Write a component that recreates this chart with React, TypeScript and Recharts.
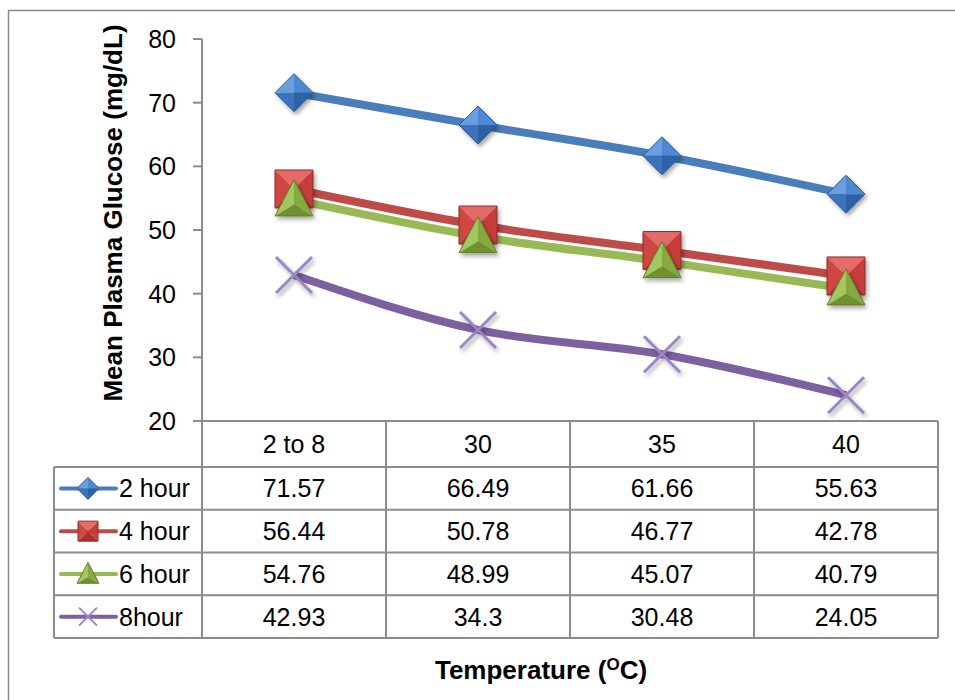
import React from "react";
import { LineChart, Line, XAxis, YAxis } from "recharts";

const categories = ["2 to 8", "30", "35", "40"];
const seriesNames = ["2 hour", "4 hour", "6 hour", "8hour"];
const hour2 = [71.57, 66.49, 61.66, 55.63];
const hour4 = [56.44, 50.78, 46.77, 42.78];
const hour6 = [54.76, 48.99, 45.07, 40.79];
const hour8 = [42.93, 34.3, 30.48, 24.05];
const yTicks = [20, 30, 40, 50, 60, 70, 80];

const seriesValues = [hour2, hour4, hour6, hour8];
const seriesKeys = ["h2", "h4", "h6", "h8"];
const lineColors = ["#4A7EBB", "#BE4B48", "#98B954", "#7D60A0"];

const data = categories.map((c, i) => {
  const row: any = { cat: c };
  seriesKeys.forEach((k, s) => {
    row[k] = seriesValues[s][i];
  });
  return row;
});

const FONT = "'Liberation Sans', Arial, sans-serif";
const GRID = "#8c8c8c";

const pt = (a: number, b: number) => `${a},${b}`;

function Diamond({ cx, cy, r, shadow = true }: any) {
  const t = pt(cx, cy - r), rt = pt(cx + r, cy), b = pt(cx, cy + r), l = pt(cx - r, cy), c = pt(cx, cy);
  return (
    <g filter={shadow ? "url(#mkShadow)" : undefined}>
      <polygon points={`${l} ${t} ${c}`} fill="#6A9FDF" />
      <polygon points={`${t} ${rt} ${c}`} fill="#4E88D2" />
      <polygon points={`${l} ${b} ${c}`} fill="#3B73BC" />
      <polygon points={`${rt} ${b} ${c}`} fill="#2D62A6" />
      <polygon points={`${l} ${t} ${rt} ${b}`} fill="none" stroke="#2A5A93" strokeWidth={1} />
    </g>
  );
}

function Square({ cx, cy, r, shadow = true }: any) {
  const tl = pt(cx - r, cy - r), tr = pt(cx + r, cy - r), br = pt(cx + r, cy + r), bl = pt(cx - r, cy + r), c = pt(cx, cy);
  return (
    <g filter={shadow ? "url(#mkShadow)" : undefined}>
      <polygon points={`${tl} ${tr} ${c}`} fill="#E56B67" />
      <polygon points={`${tl} ${bl} ${c}`} fill="#CF4642" />
      <polygon points={`${tr} ${br} ${c}`} fill="#C63E3A" />
      <polygon points={`${bl} ${br} ${c}`} fill="#A9322F" />
      <polygon points={`${tl} ${tr} ${br} ${bl}`} fill="none" stroke="#8C2A27" strokeWidth={1} />
    </g>
  );
}

function Triangle({ cx, cy, r, shadow = true }: any) {
  const h = r * 1.9;
  const t = pt(cx, cy - h * 0.55), l = pt(cx - r, cy + h * 0.45), rt = pt(cx + r, cy + h * 0.45), c = pt(cx, cy + h * 0.15);
  return (
    <g filter={shadow ? "url(#mkShadow)" : undefined}>
      <polygon points={`${t} ${l} ${c}`} fill="#A3C75E" />
      <polygon points={`${t} ${rt} ${c}`} fill="#86AA40" />
      <polygon points={`${l} ${rt} ${c}`} fill="#6F9131" />
      <polygon points={`${t} ${l} ${rt}`} fill="none" stroke="#5F7D2A" strokeWidth={1} />
    </g>
  );
}

function Cross({ cx, cy, r, shadow = true, w = 3 }: any) {
  return (
    <g filter={shadow ? "url(#mkShadow)" : undefined} stroke="#9A85C6" strokeWidth={w}>
      <line x1={cx - r} y1={cy - r} x2={cx + r} y2={cy + r} />
      <line x1={cx - r} y1={cy + r} x2={cx + r} y2={cy - r} />
    </g>
  );
}

const markerComps = [Diamond, Square, Triangle, Cross];
const markerSizes = [19, 19, 19, 18];
const legendSizes = [11, 10, 11, 9];

const HEADER_H = 46;
const ROW_H = 42.75;
const LEGEND_W = 148;

function TableTick(props: any) {
  const { x, y, payload, index, width, visibleTicksCount } = props;
  const colW = width && visibleTicksCount ? width / visibleTicksCount : 184;
  const left = x - colW / 2;
  const right = x + colW / 2;
  const bottom = y + HEADER_H + ROW_H * seriesNames.length;
  const lines: any[] = [];
  lines.push(<line key="vl" x1={left} y1={y} x2={left} y2={bottom} stroke={GRID} strokeWidth={2} />);
  lines.push(<line key="vr" x1={right} y1={y} x2={right} y2={bottom} stroke={GRID} strokeWidth={2} />);
  for (let r = 0; r <= seriesNames.length; r++) {
    const yy = y + HEADER_H + ROW_H * r;
    lines.push(<line key={"h" + r} x1={left} y1={yy} x2={right} y2={yy} stroke={GRID} strokeWidth={2} />);
  }
  const texts: any[] = [];
  texts.push(
    <text key="hd" x={x} y={y + HEADER_H / 2} dy="0.36em" textAnchor="middle" fontSize={25} fontFamily={FONT} fill="#000">
      {payload.value}
    </text>
  );
  seriesValues.forEach((vals, s) => {
    texts.push(
      <text key={"v" + s} x={x} y={y + HEADER_H + ROW_H * (s + 0.5)} dy="0.36em" textAnchor="middle" fontSize={25} fontFamily={FONT} fill="#000">
        {String(vals[index])}
      </text>
    );
  });
  const legend: any[] = [];
  if (index === 0) {
    const lx = left - LEGEND_W;
    legend.push(<line key="lv" x1={lx} y1={y + HEADER_H} x2={lx} y2={bottom} stroke={GRID} strokeWidth={2} />);
    for (let r = 0; r <= seriesNames.length; r++) {
      const yy = y + HEADER_H + ROW_H * r;
      legend.push(<line key={"lh" + r} x1={lx} y1={yy} x2={left} y2={yy} stroke={GRID} strokeWidth={2} />);
    }
    seriesNames.forEach((name, s) => {
      const cy = y + HEADER_H + ROW_H * (s + 0.5);
      const M = markerComps[s];
      legend.push(
        <g key={"lg" + s}>
          <line x1={lx + 7} y1={cy} x2={lx + 62} y2={cy} stroke={lineColors[s]} strokeWidth={4} strokeLinecap="round" />
          <M cx={lx + 34} cy={cy} r={legendSizes[s]} shadow={false} w={2} />
          <text x={lx + 65} y={cy} dy="0.36em" fontSize={25} fontFamily={FONT} fill="#000">
            {name}
          </text>
        </g>
      );
    });
  }
  return (
    <g>
      {lines}
      {legend}
      {texts}
    </g>
  );
}

export default function App() {
  return (
    <div style={{ position: "relative", width: 955, height: 700 }}>
      <style>{`body{margin:0;background:#fff}`}</style>
      <svg width={0} height={0} style={{ position: "absolute" }}>
        <defs>
          <filter id="mkShadow" x="-50%" y="-50%" width="200%" height="200%">
            <feGaussianBlur in="SourceAlpha" stdDeviation="2" />
            <feOffset dx="1.5" dy="3" result="ob" />
            <feComponentTransfer>
              <feFuncA type="linear" slope="0.35" />
            </feComponentTransfer>
            <feMerge>
              <feMergeNode />
              <feMergeNode in="SourceGraphic" />
            </feMerge>
          </filter>
        </defs>
      </svg>
      <LineChart
        width={955}
        height={700}
        data={data}
        margin={{ top: 39, right: 17, left: 0, bottom: 62 }}
      >
        <XAxis
          dataKey="cat"
          height={217}
          padding={{ left: 92, right: 92 }}
          interval={0}
          tickLine={false}
          tickSize={0}
          tickMargin={0}
          axisLine={{ stroke: GRID, strokeWidth: 2 }}
          tick={<TableTick />}
        />
        <YAxis
          width={202}
          domain={[20, 80]}
          ticks={yTicks}
          interval={0}
          tickSize={9}
          tickMargin={17}
          axisLine={{ stroke: GRID, strokeWidth: 2 }}
          tickLine={{ stroke: GRID, strokeWidth: 2 }}
          tick={{ fontSize: 25, fill: "#000", fontFamily: FONT }}
        />
        {seriesKeys.map((k, s) => {
          const M = markerComps[s];
          return (
            <Line
              key={k}
              dataKey={k}
              name={seriesNames[s]}
              type="monotone"
              stroke={lineColors[s]}
              strokeWidth={8}
              strokeLinejoin="round"
              isAnimationActive={false}
              activeDot={false}
              dot={(p: any) => <M key={k + p.index} cx={p.cx} cy={p.cy} r={markerSizes[s]} />}
            />
          );
        })}
      </LineChart>
      <svg width={955} height={700} style={{ position: "absolute", left: 0, top: 0, pointerEvents: "none" }}>
        <polyline points="8.5,700 8.5,10.5 955,10.5" fill="none" stroke="#8a8a8a" strokeWidth={1.5} />
        <text
          x={113}
          y={213}
          transform="rotate(-90 113 213)"
          textAnchor="middle"
          dy="0.36em"
          fontSize={26}
          fontWeight="bold"
          fontFamily={FONT}
          fill="#000"
        >
          Mean Plasma Glucose (mg/dL)
        </text>
        <text x={541} y={679} textAnchor="middle" fontSize={26} fontWeight="bold" fontFamily={FONT} fill="#000">
          Temperature (<tspan fontSize={17} dy={-9}>O</tspan>
          <tspan dy={9}>C)</tspan>
        </text>
      </svg>
    </div>
  );
}
